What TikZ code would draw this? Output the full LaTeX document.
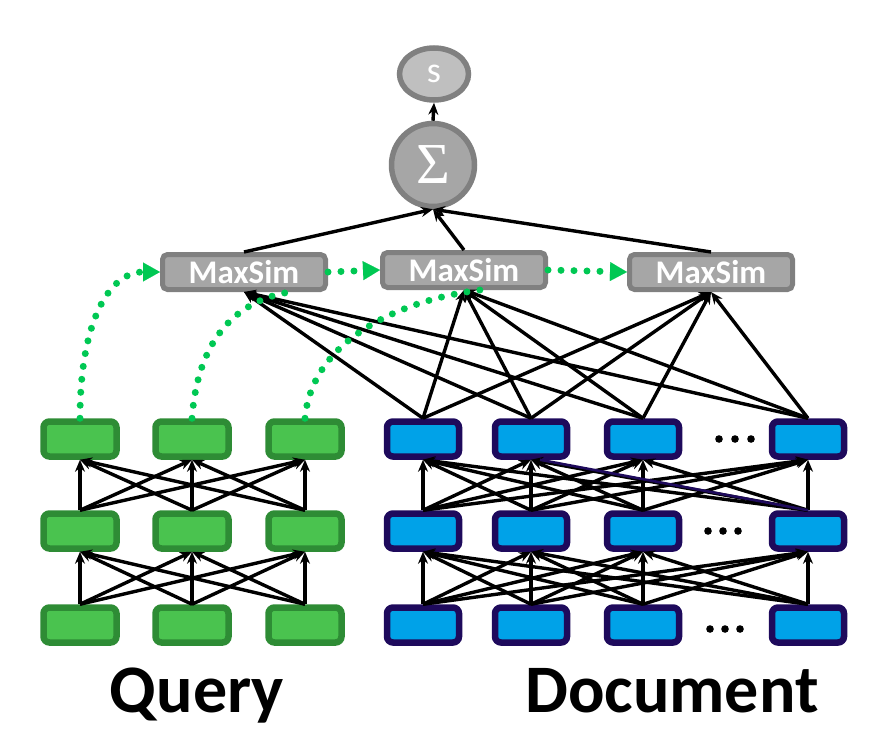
\documentclass[tikz,border=0pt]{standalone}
\usepackage{fontspec}
\setmainfont{Carlito}
\newfontfamily\sigfont{Liberation Serif}
\usetikzlibrary{arrows.meta,shapes.geometric}
\definecolor{qfill}{HTML}{4AC34F}
\definecolor{qline}{HTML}{2E8C35}
\definecolor{dfill}{HTML}{00A2E8}
\definecolor{dline}{HTML}{1E0A5C}
\definecolor{gfill}{HTML}{A6A6A6}
\definecolor{gline}{HTML}{808080}
\definecolor{sfill}{HTML}{BFBFBF}
\definecolor{dgreen}{HTML}{00C853}
\tikzset{
  qbox/.style={draw=qline, fill=qfill, line width=6.5pt, rounded corners=6pt, minimum width=73pt, minimum height=35pt, inner sep=0pt},
  dbox/.style={draw=dline, fill=dfill, line width=6.5pt, rounded corners=6pt, minimum width=72pt, minimum height=35pt, inner sep=0pt},
  msbox/.style={draw=gline, fill=gfill, line width=5pt, rounded corners=5pt, minimum width=163pt, minimum height=35pt, inner sep=0pt, text=white, font=\bfseries\fontsize{33}{33}\selectfont},
  conn/.style={line width=3.4pt, -{Stealth[length=12pt,width=10pt]}},
  gdot/.style={draw=dgreen, line width=7pt, line cap=round, dash pattern=on 0pt off 13pt},
  garrow/.style={gdot, -{Triangle[length=17pt,width=19pt,line width=0.1pt]}},
  lbl/.style={font=\bfseries\fontsize{68}{68}\selectfont, anchor=base, inner sep=0pt}
}
\begin{document}
\begin{tikzpicture}[x=1pt,y=-1pt]
\useasboundingbox (0,0) rectangle (872,744);
% query boxes
\foreach \c/\x in {1/80,2/192,3/305}{
  \node[qbox] (qa\c) at (\x,439) {};
  \node[qbox] (qb\c) at (\x,531) {};
  \node[qbox] (qc\c) at (\x,625) {};
}
% document boxes
\foreach \c/\x in {1/423,2/531,3/643,4/808}{
  \node[dbox] (da\c) at (\x,439) {};
  \node[dbox] (db\c) at (\x,531) {};
  \node[dbox] (dc\c) at (\x,625) {};
}
% MaxSim
\node[msbox] (m1) at (244,272) {MaxSim};
\node[msbox] (m2) at (464,270) {MaxSim};
\node[msbox] (m3) at (711,272) {MaxSim};
% sum and score
\node[circle, draw=gline, fill=gfill, line width=5.5pt, minimum size=83pt, inner sep=0pt, text=white] (sig) at (433,165) {\sigfont\fontsize{58}{58}\selectfont Σ};
\node[ellipse, draw=gline, fill=sfill, line width=5.5pt, minimum width=69pt, minimum height=52pt, inner sep=0pt, text=white, font=\fontsize{36}{36}\selectfont] (s) at (434,74) {s};
% query connections
\foreach \i in {1,2,3}{\foreach \j in {1,2,3}{
  \draw[conn] (qb\i.north) -- (qa\j.south);
  \draw[conn] (qc\i.north) -- (qb\j.south);
}}
% document connections
\foreach \i in {1,2,3,4}{\foreach \j in {1,2,3,4}{
  \draw[conn] (db\i.north) -- (da\j.south);
  \draw[conn] (dc\i.north) -- (db\j.south);
}}
\draw[dline, line width=2.6pt] ([xshift=9pt]da2.south) -- (db4.north);
% document to MaxSim
\foreach \i in {1,2,3,4}{\foreach \j in {1,2,3}{
  \draw[conn] (da\i.north) -- (m\j.south);
}}
% MaxSim to sum
\foreach \j in {1,2,3}{\draw[conn] (m\j.north) -- (sig.south);}
\draw[conn] (sig.north) -- (s.south);
% green dotted
\draw[garrow] (qa1.north) .. controls (80,320) and (110,272) .. (m1.west);
\draw[gdot] (qa2.north) .. controls (198,335) and (240,300) .. ([xshift=46pt]m1.south);
\draw[gdot] (qa3.north) .. controls (312,340) and (400,300) .. ([xshift=16pt]m2.south);
\draw[garrow] (m1.east) -- (m2.west);
\draw[garrow] (m2.east) -- (m3.west);
% ellipses
\foreach \x in {719,735,751}{\fill (\x,439) circle (3.8pt);}
\foreach \x in {708,723,738}{\fill (\x,531) circle (3.8pt);}
\foreach \x in {710,725,740}{\fill (\x,629) circle (3.8pt);}
% labels
\node[lbl] (ql) at (197,712) {Query};
\node[lbl] (dl) at (672,712) {Document};
\end{tikzpicture}
\end{document}
